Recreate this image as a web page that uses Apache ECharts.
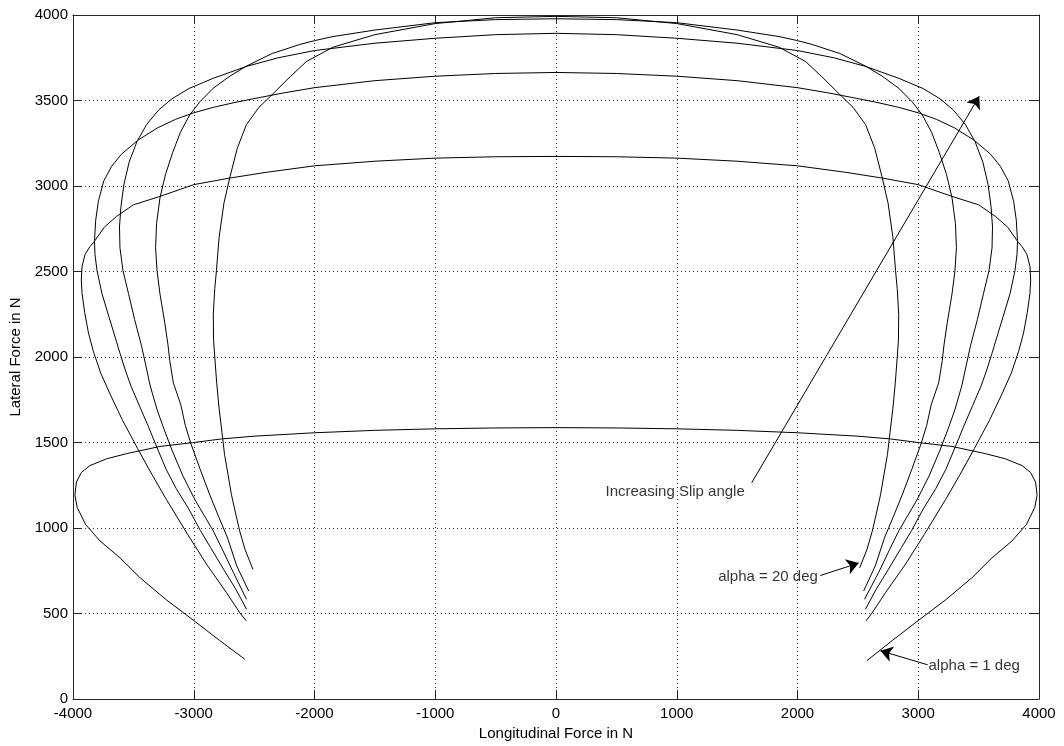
<!DOCTYPE html>
<html>
<head>
<meta charset="utf-8">
<script src="https://cdn.jsdelivr.net/npm/echarts@6/dist/echarts.min.js"></script>
<style>
  html, body { margin: 0; padding: 0; background: #fff; }
  #chart { width: 1064px; height: 746px; }
</style>
</head>
<body>
<div id="chart"></div>
<script>
// Combined-slip force loops: [longitudinal force, lateral force] in N,
// one loop per slip angle, traced from the braking end round to the driving end.
const xTicks = [-4000, -3000, -2000, -1000, 0, 1000, 2000, 3000, 4000];
const yTicks = [0, 500, 1000, 1500, 2000, 2500, 3000, 3500, 4000];

// alpha = 1 deg
const loop1Left = [[-2578,233],[-2785,342],[-3006,462],[-3227,580],[-3448,711],[-3610,825],[-3776,924],[-3895,1020],[-3965,1120],[-3984,1192],[-3972,1268],[-3930,1325],[-3860,1365],[-3720,1405],[-3555,1435],[-3279,1477],[-3010,1499],[-2769,1521],[-2500,1537],[-2000,1557],[-1500,1571],[-1000,1580],[-500,1585],[0,1587]];
const loop1Right = [[500,1585],[1000,1580],[1500,1571],[2000,1557],[2500,1537],[2769,1521],[3010,1499],[3279,1477],[3555,1435],[3720,1405],[3860,1365],[3930,1325],[3972,1268],[3984,1192],[3965,1120],[3895,1020],[3776,924],[3610,825],[3448,711],[3227,580],[3006,462],[2785,342],[2576,225]];

const loop2Left = [[-2565,457],[-2617,503],[-2729,622],[-2895,789],[-3050,962],[-3225,1165],[-3340,1305],[-3465,1465],[-3590,1630],[-3694,1785],[-3770,1905],[-3830,2030],[-3872,2140],[-3903,2260],[-3925,2370],[-3931,2450],[-3925,2530],[-3900,2600],[-3860,2645],[-3820,2679],[-3740,2760],[-3640,2822],[-3500,2890],[-3276,2940],[-3000,3008],[-2705,3046],[-2400,3080],[-2000,3118],[-1500,3145],[-1000,3163],[-500,3171],[0,3173]];
const loop2Right = [[500,3171],[1000,3163],[1500,3145],[2000,3118],[2400,3080],[2705,3046],[3000,3008],[3276,2940],[3500,2890],[3640,2822],[3740,2760],[3820,2679],[3860,2645],[3900,2600],[3925,2530],[3931,2450],[3925,2370],[3903,2260],[3872,2140],[3830,2030],[3770,1905],[3694,1785],[3590,1630],[3465,1465],[3340,1305],[3225,1165],[3050,962],[2895,789],[2729,622],[2617,503],[2568,457]];

const loop3Left = [[-2563,525],[-2650,640],[-2750,755],[-2860,885],[-2945,985],[-3040,1110],[-3145,1230],[-3230,1345],[-3310,1480],[-3380,1600],[-3450,1715],[-3520,1830],[-3570,1930],[-3610,2020],[-3640,2090],[-3700,2230],[-3760,2370],[-3801,2505],[-3818,2600],[-3822,2680],[-3812,2800],[-3790,2910],[-3745,3030],[-3680,3115],[-3600,3185],[-3462,3268],[-3300,3340],[-3150,3390],[-3000,3428],[-2838,3460],[-2650,3490],[-2450,3518],[-2250,3545],[-2000,3575],[-1500,3616],[-1000,3642],[-500,3658],[0,3664]];
const loop3Right = [[500,3658],[1000,3642],[1500,3616],[2000,3575],[2250,3545],[2450,3518],[2650,3490],[2838,3460],[3000,3428],[3150,3390],[3300,3340],[3462,3268],[3600,3185],[3680,3115],[3745,3030],[3790,2910],[3812,2800],[3822,2680],[3818,2600],[3801,2505],[3760,2370],[3700,2230],[3640,2090],[3610,2020],[3570,1930],[3520,1830],[3450,1715],[3380,1600],[3310,1480],[3230,1345],[3145,1230],[3040,1110],[2945,985],[2860,885],[2750,755],[2650,640],[2563,525]];

const loop4Left = [[-2563,583],[-2672,740],[-2760,870],[-2840,985],[-2990,1165],[-3090,1305],[-3180,1455],[-3250,1585],[-3305,1695],[-3360,1830],[-3400,1960],[-3434,2069],[-3490,2220],[-3540,2370],[-3586,2505],[-3611,2637],[-3615,2760],[-3603,2880],[-3578,3010],[-3535,3140],[-3470,3260],[-3390,3360],[-3290,3445],[-3180,3510],[-3040,3570],[-2838,3630],[-2561,3700],[-2300,3750],[-2000,3792],[-1500,3835],[-1000,3864],[-500,3885],[0,3893]];
const loop4Right = [[500,3885],[1000,3864],[1500,3835],[2000,3792],[2300,3750],[2561,3700],[2838,3630],[3040,3570],[3180,3510],[3290,3445],[3390,3360],[3470,3260],[3535,3140],[3578,3010],[3603,2880],[3615,2760],[3611,2637],[3586,2505],[3540,2370],[3490,2220],[3434,2069],[3400,1960],[3360,1830],[3305,1695],[3250,1585],[3180,1455],[3090,1305],[2990,1165],[2840,985],[2760,870],[2672,740],[2555,583]];

const loop5Left = [[-2545,632],[-2644,778],[-2720,942],[-2790,1060],[-2868,1195],[-2945,1340],[-3025,1496],[-3070,1600],[-3107,1720],[-3169,1849],[-3199,1980],[-3213,2069],[-3240,2200],[-3280,2370],[-3304,2505],[-3316,2640],[-3308,2780],[-3280,2930],[-3235,3065],[-3175,3195],[-3110,3315],[-3033,3416],[-2950,3492],[-2838,3572],[-2700,3643],[-2561,3702],[-2350,3775],[-2120,3828],[-2000,3850],[-1846,3874],[-1500,3912],[-1000,3955],[-500,3973],[0,3978]];
const loop5Right = [[500,3973],[1000,3955],[1500,3912],[1846,3874],[2000,3850],[2120,3828],[2350,3775],[2561,3702],[2700,3643],[2838,3572],[2950,3492],[3033,3416],[3110,3315],[3175,3195],[3235,3065],[3280,2930],[3308,2780],[3316,2640],[3304,2505],[3280,2370],[3240,2200],[3213,2069],[3199,1980],[3169,1849],[3107,1720],[3070,1600],[3025,1496],[2945,1340],[2868,1195],[2790,1060],[2720,942],[2644,778],[2548,632]];

// alpha = 20 deg
const loop6Left = [[-2510,758],[-2576,876],[-2619,981],[-2650,1075],[-2688,1195],[-2714,1304],[-2745,1430],[-2766,1557],[-2790,1700],[-2810,1849],[-2826,2000],[-2836,2100],[-2838,2250],[-2826,2400],[-2812,2505],[-2790,2700],[-2750,2900],[-2702,3048],[-2640,3220],[-2564,3359],[-2460,3460],[-2343,3540],[-2200,3640],[-2067,3728],[-1846,3812],[-1500,3885],[-1000,3950],[-500,3984],[0,3992]];
const loop6Right = [[500,3984],[1000,3950],[1500,3885],[1846,3812],[2067,3728],[2200,3640],[2343,3540],[2460,3460],[2564,3359],[2640,3220],[2702,3048],[2750,2900],[2790,2700],[2812,2505],[2826,2400],[2838,2250],[2836,2100],[2826,2000],[2810,1849],[2790,1700],[2766,1557],[2745,1430],[2714,1304],[2688,1195],[2650,1075],[2619,981],[2576,876],[2515,767]];

// Annotation arrows: [tail, head]
const arrowSlip = [[1621,1265],[3505,3525]];
const arrowAlpha20 = [[2188,722],[2507,795]];
const arrowAlpha1 = [[3078,200],[2687,282]];

// Annotation texts: [x, y, text] (x = left edge of the text)
const notes = [
  [406, 1209, 'Increasing Slip angle'],
  [1339, 714, 'alpha = 20 deg'],
  [3081, 196, 'alpha = 1 deg']
];

const loops = [
  loop1Left.concat(loop1Right),
  loop2Left.concat(loop2Right),
  loop3Left.concat(loop3Right),
  loop4Left.concat(loop4Right),
  loop5Left.concat(loop5Right),
  loop6Left.concat(loop6Right)
];

const FONT = '"Liberation Sans", Arial, Helvetica, sans-serif';
const AXIS_COLOR = '#262626';

function plainNumber(v) { return String(v); }

function baseAxis(min, max, interval) {
  return {
    type: 'value', min: min, max: max, interval: interval,
    axisLine: { show: true, onZero: false, lineStyle: { color: AXIS_COLOR, width: 1 } },
    axisTick: { show: true, inside: true, length: 9, lineStyle: { color: AXIS_COLOR, width: 1 } },
    splitLine: { show: false },
    axisLabel: { show: false }
  };
}

const xMain = Object.assign(baseAxis(xTicks[0], xTicks[xTicks.length - 1], xTicks[1] - xTicks[0]), {
  position: 'bottom',
  name: 'Longitudinal Force in N', nameLocation: 'middle', nameGap: 27,
  nameTextStyle: { color: '#000', fontSize: 15, fontFamily: FONT },
  axisLabel: { show: true, color: '#000', fontSize: 15, fontFamily: FONT, margin: 7, formatter: plainNumber },
  splitLine: { show: true, lineStyle: { color: '#333', width: 1, type: [1, 3] } }
});
const xTop = Object.assign(baseAxis(xTicks[0], xTicks[xTicks.length - 1], xTicks[1] - xTicks[0]), { position: 'top' });
const yMain = Object.assign(baseAxis(yTicks[0], yTicks[yTicks.length - 1], yTicks[1] - yTicks[0]), {
  position: 'left',
  name: 'Lateral Force in N', nameLocation: 'middle', nameGap: 46,
  nameTextStyle: { color: '#000', fontSize: 15, fontFamily: FONT },
  axisLabel: { show: true, color: '#000', fontSize: 15, fontFamily: FONT, margin: 5, formatter: plainNumber },
  splitLine: { show: true, lineStyle: { color: '#333', width: 1, type: [1, 3] } }
});
const yRight = Object.assign(baseAxis(yTicks[0], yTicks[yTicks.length - 1], yTicks[1] - yTicks[0]), { position: 'right' });

const series = loops.map(function (pts) {
  return {
    type: 'line', data: pts, xAxisIndex: 0, yAxisIndex: 0,
    showSymbol: false, symbol: 'none', smooth: false, silent: true,
    lineStyle: { color: '#000', width: 1 }
  };
});

series.push({
  type: 'lines', coordinateSystem: 'cartesian2d', xAxisIndex: 0, yAxisIndex: 0,
  symbol: ['none', 'arrow'], symbolSize: 12, silent: true,
  lineStyle: { color: '#000', width: 1, opacity: 1, curveness: 0 },
  data: [arrowSlip, arrowAlpha20, arrowAlpha1].map(function (a) { return { coords: a }; })
});

series.push({
  type: 'scatter', xAxisIndex: 0, yAxisIndex: 0, symbolSize: 1, silent: true,
  itemStyle: { color: 'rgba(0,0,0,0)' },
  label: {
    show: true, position: 'right', distance: 0,
    color: '#000', fontSize: 15, fontFamily: FONT,
    formatter: function (p) { return p.value[2]; }
  },
  data: notes
});

const chart = echarts.init(document.getElementById('chart'), null, { renderer: 'canvas' });
chart.setOption({
  animation: false,
  backgroundColor: '#fff',
  grid: { left: 73, right: 25, top: 15, bottom: 46, containLabel: false },
  xAxis: [xMain, xTop],
  yAxis: [yMain, yRight],
  series: series
});
</script>
</body>
</html>
